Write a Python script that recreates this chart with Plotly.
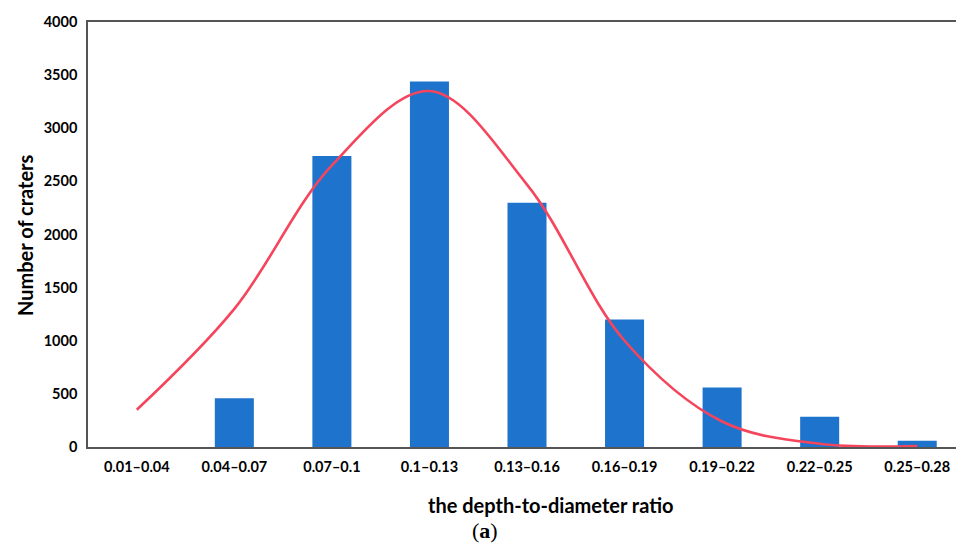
import plotly.graph_objects as go

categories = ["0.01–0.04", "0.04–0.07", "0.07–0.1", "0.1–0.13", "0.13–0.16",
              "0.16–0.19", "0.19–0.22", "0.22–0.25", "0.25–0.28"]
crater_counts = [0, 460, 2740, 3440, 2300, 1200, 560, 285, 60]
fit_curve = [350, 1300, 2650, 3350, 2470, 1000, 240, 30, 10]
y_ticks = [0, 500, 1000, 1500, 2000, 2500, 3000, 3500, 4000]

FONT = "Lato"
W, H = 964, 552
OFF = 8  # page body margin offset
# target plot area in screen pixels
X0, X1, Y0, Y1 = 88, 966, 22, 447
L, R, T, B = X0 - OFF, W - (X1 - OFF), Y0 - OFF, H - (Y1 - OFF)
PW, PH = W - L - R, H - T - B

def sx(px):
    return (px - OFF - L) / PW

def sy(py):
    return (H - B - (py - OFF)) / PH

fig = go.Figure()
fig.add_trace(go.Bar(
    x=categories, y=crater_counts, width=0.4,
    marker=dict(color="#1E73CC", line=dict(width=0)),
    showlegend=False,
))
fig.add_trace(go.Scatter(
    x=categories, y=fit_curve, mode="lines",
    line=dict(color="#F5455C", width=2.6, shape="spline", smoothing=1.0),
    showlegend=False,
))

fig.update_layout(
    width=W, height=H,
    margin=dict(l=L, r=R, t=T, b=B, autoexpand=False),
    paper_bgcolor="white", plot_bgcolor="white",
    font=dict(family=FONT, color="black"),
    xaxis=dict(
        type="category", range=[-0.5, 8.5], automargin=False,
        showline=True, linecolor="#555555", linewidth=1.6, mirror=True,
        showgrid=False, ticks="", ticklen=0,
        tickfont=dict(family=FONT, size=14.5, weight="bold"),
        ticklabelstandoff=6,
    ),
    yaxis=dict(
        range=[0, 4000], tickvals=y_ticks, automargin=False,
        showline=True, linecolor="#555555", linewidth=1.6, mirror=False,
        showgrid=False, ticks="", zeroline=False,
        tickfont=dict(family=FONT, size=14.5, weight="bold"),
        ticklabelstandoff=6,
    ),
    annotations=[
        dict(text="<b>the depth-to-diameter ratio</b>", xref="paper", yref="paper",
             x=sx(551), y=sy(505), xanchor="center", yanchor="middle",
             showarrow=False, font=dict(family=FONT, size=20, color="black")),
        dict(text="<b>Number of craters</b>", xref="paper", yref="paper",
             x=sx(25), y=sy(235), xanchor="center", yanchor="middle",
             textangle=-90, showarrow=False, font=dict(family=FONT, size=20, color="black")),
        dict(text="(<b>a</b>)", xref="paper", yref="paper",
             x=sx(485), y=sy(530), xanchor="center", yanchor="middle",
             showarrow=False, font=dict(family="Liberation Serif", size=22, color="black")),
    ],
)

fig.write_html("out.html")
